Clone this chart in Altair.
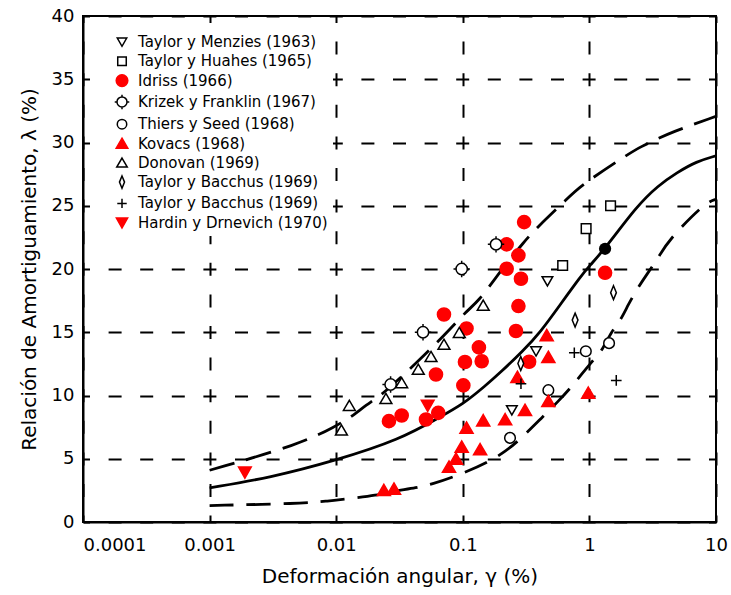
import altair as alt
import pandas as pd

# ---- Data: shear strain (gamma, %) and damping ratio (lambda, %) ----
fuentes = [
    "Taylor y Menzies (1963)",
    "Taylor y Huahes (1965)",
    "Idriss (1966)",
    "Krizek y Franklin (1967)",
    "Thiers y Seed (1968)",
    "Kovacs (1968)",
    "Donovan (1969)",
    "Taylor y Bacchus (1969)",
    "Taylor y Bacchus (1969) #2",
    "Hardin y Drnevich (1970)",
]

menzies_g = [0.244, 0.379, 0.466]
menzies_l = [8.84, 13.5, 19.04]

huahes_g = [0.615, 0.942, 1.47]
huahes_l = [20.28, 23.19, 25.0]

idriss_g = [0.0261, 0.0329, 0.0512, 0.064, 0.101, 0.0614, 0.104, 0.141, 0.134, 0.107,
            0.071, 0.263, 0.275, 0.288, 0.222, 0.275, 0.222, 0.305, 0.334, 1.33]
idriss_l = [7.97, 8.42, 8.1, 8.63, 10.8, 11.66, 12.65, 12.71, 13.8, 15.3,
            16.4, 15.1, 17.07, 19.23, 20.02, 21.08, 21.95, 23.71, 12.67, 19.7]

krizek_g = [0.0269, 0.0485, 0.098, 0.183]
krizek_l = [10.87, 15.0, 20.0, 21.95]

thiers_g = [0.236, 0.474, 0.937, 1.43]
thiers_l = [6.65, 10.42, 13.5, 14.14]

kovacs_g = [0.0238, 0.0286, 0.0778, 0.0884, 0.098, 0.107, 0.137, 0.145, 0.216, 0.27,
            0.31, 0.46, 0.474, 0.474, 0.98]
kovacs_l = [2.51, 2.62, 4.36, 4.99, 5.94, 7.44, 5.73, 8.02, 8.1, 11.45,
            8.84, 14.75, 13.03, 9.55, 10.2]

donovan_g = [0.011, 0.0127, 0.0247, 0.0329, 0.0445, 0.0561, 0.071, 0.0938, 0.145]
donovan_l = [7.25, 9.2, 9.74, 11.0, 12.06, 13.06, 14.03, 14.96, 17.12]

bacchus_a_g = [0.287, 0.771, 1.55]
bacchus_a_l = [12.53, 15.96, 18.13]

bacchus_b_g = [0.288, 0.76, 1.63]
bacchus_b_l = [10.93, 13.38, 11.19]

hardin_g = [0.0019, 0.0528]
hardin_l = [3.93, 9.2]

# isolated black point on the mean curve
extra_g = [1.33]
extra_l = [21.6]

# band curves: upper (dashed), mean (solid), lower (dashed)
sup_g = [0.001, 0.0052, 0.0099, 0.0132, 0.0174, 0.0222, 0.0329, 0.0459, 0.0585, 0.0768,
         0.107, 0.133, 0.185, 0.229, 0.301, 0.384, 0.661, 0.844, 1.91, 2.6, 3.2, 4.34, 9.86, 10]
sup_l = [4.09, 6.15, 7.57, 8.31, 9.29, 9.94, 11.5, 12.85, 13.9, 15.09,
         16.67, 17.46, 19.39, 20.63, 22.08, 23.27, 25.5, 26.56, 28.93, 29.72, 30.12, 30.78, 32.05, 32.07]

med_g = [0.001, 0.003, 0.0099, 0.0319, 0.066, 0.1, 0.15, 0.2, 0.3, 0.407, 0.6, 0.844,
         1.0, 1.33, 2.37, 3.5, 4.91, 7.0, 10]
med_l = [2.70, 3.5, 4.86, 6.52, 8.3, 9.3, 10.75, 11.85, 13.55, 14.96, 17.3, 19.35,
         20.25, 21.6, 24.98, 26.6, 27.62, 28.5, 28.95]

inf_g = [0.001, 0.0052, 0.0084, 0.0145, 0.0202, 0.0282, 0.0432, 0.0585, 0.0817, 0.197,
         0.33, 0.407, 0.587, 0.748, 0.844, 1.11, 1.25, 1.5, 1.75, 2.03, 2.37, 2.84, 3.51,
         4.14, 8.22, 10]
inf_l = [1.30, 1.46, 1.64, 1.91, 2.09, 2.43, 2.7, 3.04, 3.49, 5.07,
         7.18, 8.1, 9.68, 10.87, 11.53, 12.98, 13.5, 15.09, 15.88, 17.2, 18.39, 19.57, 20.89,
         22.2, 25.25, 25.5]

x_ticks = [0.0001, 0.001, 0.01, 0.1, 1, 10]
y_ticks = [0, 5, 10, 15, 20, 25, 30, 35, 40]

# ---- Tables ----
series = [
    (fuentes[0], menzies_g, menzies_l),
    (fuentes[1], huahes_g, huahes_l),
    (fuentes[2], idriss_g, idriss_l),
    (fuentes[3], krizek_g, krizek_l),
    (fuentes[4], thiers_g, thiers_l),
    (fuentes[5], kovacs_g, kovacs_l),
    (fuentes[6], donovan_g, donovan_l),
    (fuentes[7], bacchus_a_g, bacchus_a_l),
    (fuentes[8], bacchus_b_g, bacchus_b_l),
    (fuentes[9], hardin_g, hardin_l),
]
rows = []
for name, gs, ls in series:
    for g, l in zip(gs, ls):
        rows.append({"fuente": name, "g": g, "l": l})
puntos = pd.DataFrame(rows)

sup = pd.DataFrame({"g": sup_g, "l": sup_l})
med = pd.DataFrame({"g": med_g, "l": med_l})
inf = pd.DataFrame({"g": inf_g, "l": inf_l})
extra = pd.DataFrame({"g": extra_g, "l": extra_l})

# ---- Marker styles (unit-box SVG paths) ----
def circ(r):
    # circle made of four cubic Bezier arcs
    k = round(0.5523 * r, 4)
    return (f"M {r} 0 C {r} {k} {k} {r} 0 {r} C {-k} {r} {-r} {k} {-r} 0 "
            f"C {-r} {-k} {-k} {-r} 0 {-r} C {k} {-r} {r} {-k} {r} 0 Z")

shapes = [
    "M -0.52 -0.44 L 0.52 -0.44 L 0 0.47 Z",                  # open down triangle
    "M -0.47 -0.47 L 0.47 -0.47 L 0.47 0.47 L -0.47 0.47 Z",  # open square
    circ(0.64),                                                # filled circle
    circ(0.55) + " M -0.8 0 L -0.55 0 M 0.55 0 L 0.8 0 M 0 -0.8 L 0 -0.55 M 0 0.55 L 0 0.8",
    circ(0.52),                                                # small open circle
    "M 0 -0.58 L 0.64 0.52 L -0.64 0.52 Z",                    # filled up triangle
    "M 0 -0.52 L 0.58 0.47 L -0.58 0.47 Z",                    # open up triangle
    "M 0 -0.68 L 0.28 0 L 0 0.68 L -0.28 0 Z",                 # narrow diamond
    "M -0.52 0 L 0.52 0 M 0 -0.52 L 0 0.52",                   # plus
    "M -0.62 -0.52 L 0.62 -0.52 L 0 0.58 Z",                   # filled down triangle
]
fills = ["white", "white", "#ff0000", "white", "white", "#ff0000", "white", "white", "white", "#ff0000"]
strokes = ["black", "black", "#ff0000", "black", "black", "#ff0000", "black", "black", "black", "#ff0000"]

FONT = "DejaVu Sans"

x_scale = alt.Scale(type="log", domain=[0.0001, 10], nice=False)
y_scale = alt.Scale(domain=[0, 40], nice=False)

x_axis = alt.Axis(
    values=x_ticks, format="~g", title="Deformación angular, γ (%)",
    labelAlign={"condition": {"test": "datum.value < 0.0002", "value": "left"}, "value": "center"},
    labelPadding=14, titlePadding=12,
)
y_axis = alt.Axis(values=y_ticks, title="Relación de Amortiguamiento, λ (%)",
                  labelPadding=9, titlePadding=12)

legend = alt.Legend(
    orient="none", legendX=25, legendY=12, title=None,
    labelFont=FONT, labelFontSize=15, labelColor="black", labelLimit=400,
    symbolSize=330, symbolStrokeWidth=1.5, rowPadding=1.3, labelOffset=6,
    labelExpr="replace(datum.label, ' #2', '')",
    padding=4, fillColor="white", strokeColor="white",
)

def curva(df, dash):
    props = dict(color="black", strokeWidth=2.8, interpolate="basis", clip=True)
    if dash:
        props["strokeDash"] = dash
    return alt.Chart(df).mark_line(**props).encode(
        x=alt.X("g:Q", scale=x_scale, axis=x_axis),
        y=alt.Y("l:Q", scale=y_scale, axis=y_axis),
    )

lineas = curva(sup, [26, 12]) + curva(med, None) + curva(inf, [24, 13])

marcas = alt.Chart(puntos).mark_point(filled=True, size=420, strokeWidth=1.5, opacity=1).encode(
    x=alt.X("g:Q", scale=x_scale, axis=x_axis),
    y=alt.Y("l:Q", scale=y_scale, axis=y_axis),
    shape=alt.Shape("fuente:N", scale=alt.Scale(domain=fuentes, range=shapes), legend=legend),
    fill=alt.Fill("fuente:N", scale=alt.Scale(domain=fuentes, range=fills), legend=legend),
    stroke=alt.Stroke("fuente:N", scale=alt.Scale(domain=fuentes, range=strokes), legend=legend),
)

punto_negro = alt.Chart(extra).mark_point(filled=True, shape="circle", size=150, color="black", opacity=1).encode(
    x=alt.X("g:Q", scale=x_scale, axis=x_axis),
    y=alt.Y("l:Q", scale=y_scale, axis=y_axis),
)

chart = (lineas + marcas + punto_negro).properties(
    width=633, height=506,
    autosize=alt.AutoSizeParams(type="none"),
    padding={"left": 83, "top": 16, "right": 15, "bottom": 73},
    background="white",
).configure_view(
    stroke="black", strokeWidth=2,
).configure_axis(
    labelFont=FONT, labelFontSize=18, labelColor="black",
    titleFont=FONT, titleFontSize=20, titleFontWeight="normal", titleColor="black",
    domainColor="black", domainWidth=2, ticks=False,
    grid=True, gridColor="black", gridWidth=2, gridOpacity=1,
    gridDash=[13, 18.6], gridDashOffset=6.5,
)

chart.save("out.html", embed_options={"renderer": "svg", "actions": False})
